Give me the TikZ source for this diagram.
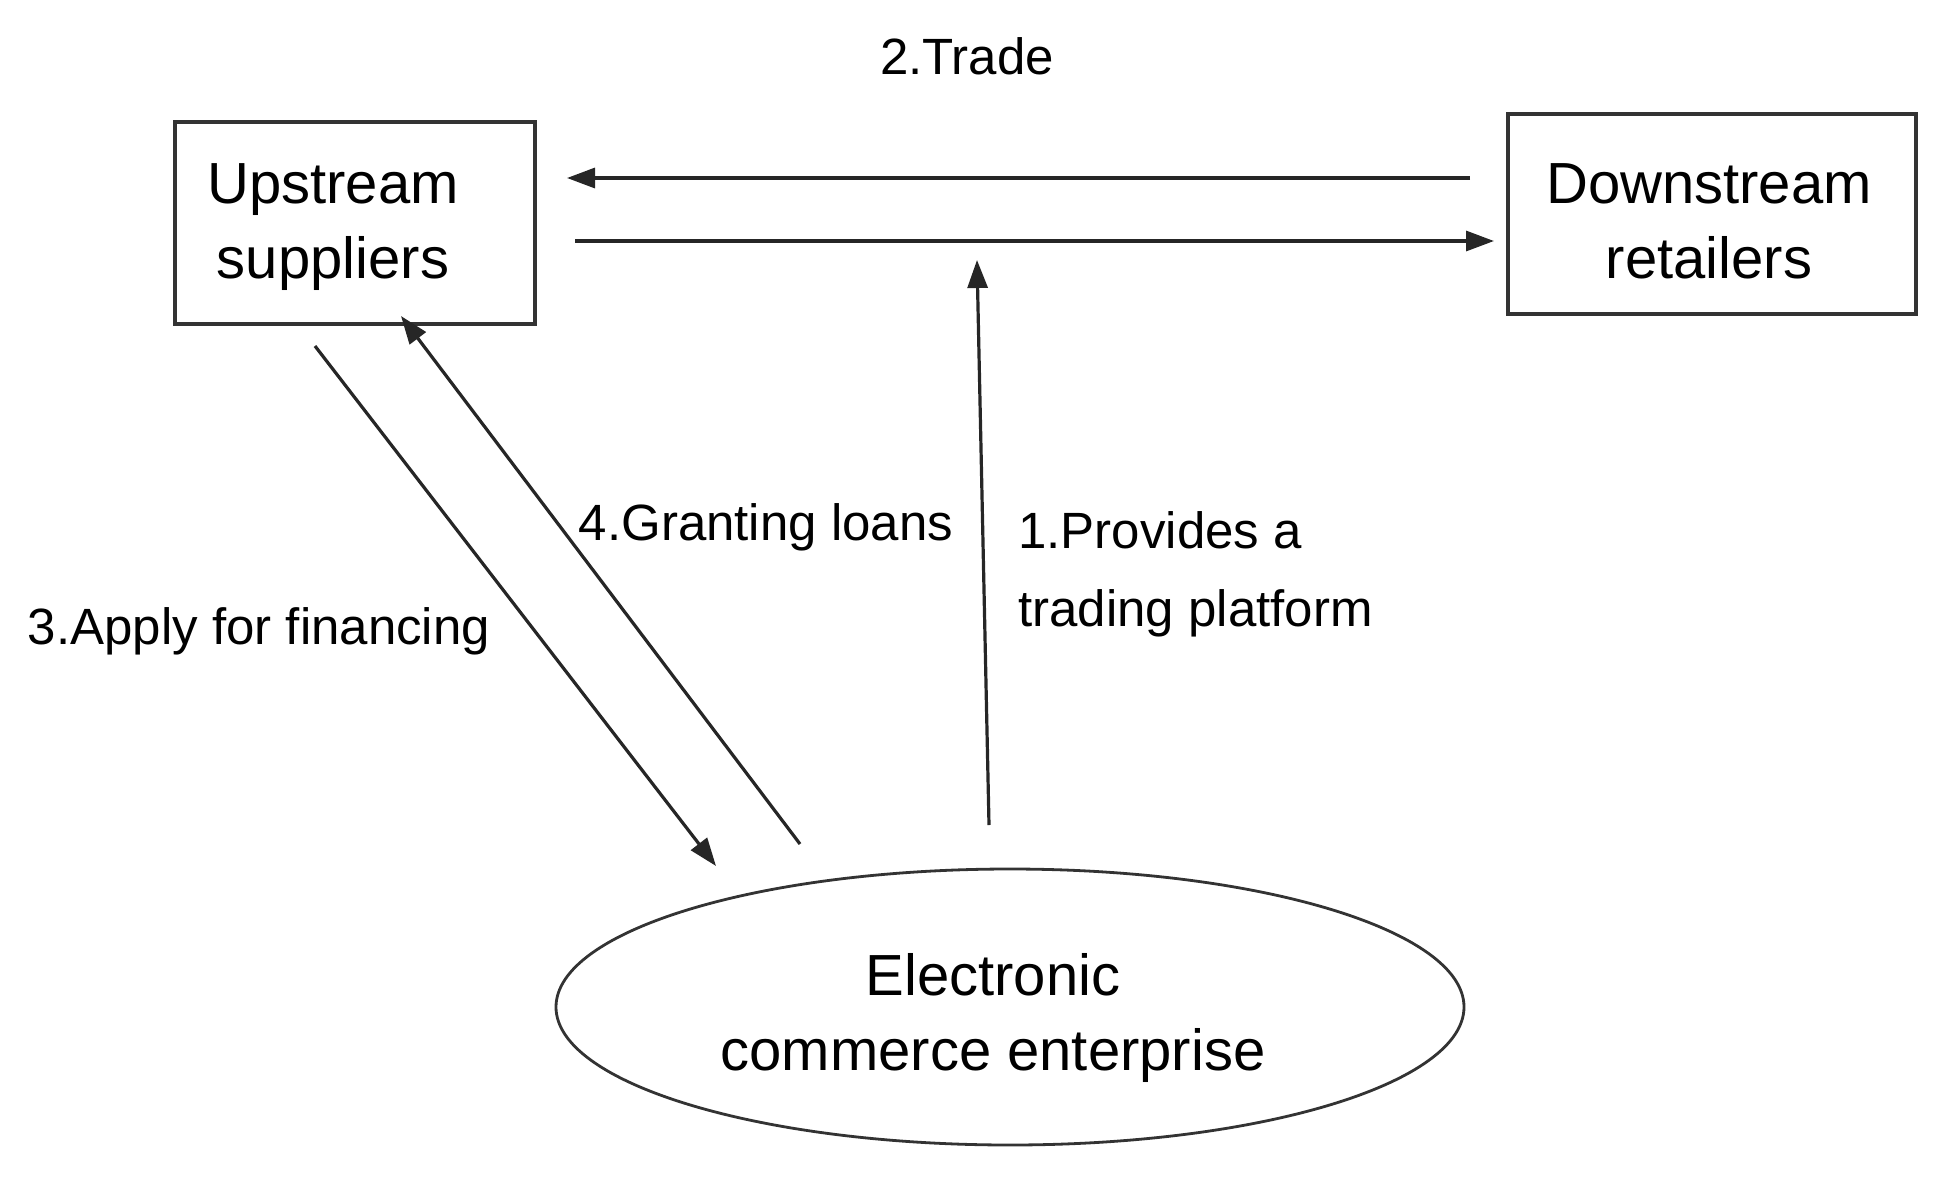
\documentclass[tikz,border=0pt]{standalone}
\usepackage{fontspec}
\setmainfont{Liberation Sans}
\usetikzlibrary{shapes.geometric,arrows.meta}
\begin{document}
\begin{tikzpicture}[x=0.5pt,y=-0.5pt,
  boxnode/.style={draw=black!80,line width=1.6pt,rectangle,inner sep=0pt},
  ovalnode/.style={draw=black!80,line width=1.4pt,ellipse,inner sep=0pt},
  nametext/.style={align=center,font=\fontsize{29}{37.5}\selectfont,inner sep=0pt},
  lbltext/.style={font=\fontsize{25.5}{39}\selectfont,inner sep=0pt},
  conn/.style={draw=black!85,line width=1.6pt,-{Triangle[length=14pt,width=10pt]}}]
\useasboundingbox (0,0) rectangle (1950,1179);
% nodes
\node[boxnode,minimum width=180pt,minimum height=101pt] (up) at (355,223) {};
\node[nametext] (uptext) at (333,227) {Upstream\\suppliers};
\node[boxnode,minimum width=204pt,minimum height=100pt] (down) at (1712,214) {};
\node[nametext] (downtext) at (1709,221) {Downstream\\retailers};
\node[ovalnode,minimum width=454pt,minimum height=138pt] (ec) at (1010,1007) {};
\node[nametext] (ectext) at (993,1018) {Electronic\\commerce enterprise};
% connector end points
\coordinate (t1) at (1470,178);
\coordinate (t2) at (567,178);
\coordinate (b1) at (575,241);
\coordinate (b2) at (1494,241);
\coordinate (v1) at (989,825);
\coordinate (v2) at (977,260);
\coordinate (a1) at (315,346);
\coordinate (a2) at (716,866);
\coordinate (g1) at (800,844);
\coordinate (g2) at (401,316);
% connectors
\draw[conn] (t1) -- (t2);
\draw[conn] (b1) -- (b2);
\draw[conn] (v1) -- (v2);
\draw[conn] (a1) -- (a2);
\draw[conn] (g1) -- (g2);
% labels
\node[lbltext] (l2) at (967,56) {2.Trade};
\node[lbltext] (l4) at (766,527) {4.Granting loans};
\node[lbltext,align=left,anchor=north west] (l1) at (1018,511) {1.Provides a\\trading platform};
\node[lbltext] (l3) at (259,631) {3.Apply for financing};
\end{tikzpicture}
\end{document}
